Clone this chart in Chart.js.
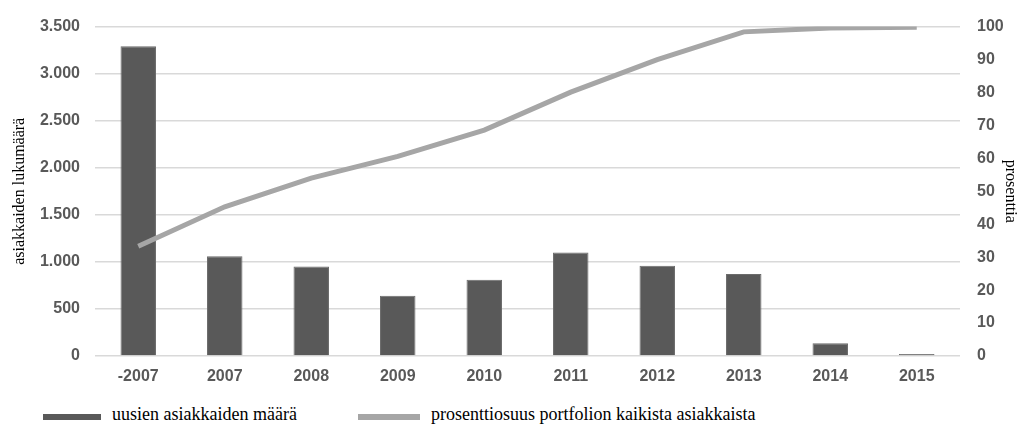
<!DOCTYPE html>
<html>
<head>
<meta charset="utf-8">
<script src="https://cdn.jsdelivr.net/npm/chart.js@4"></script>
<style>
  html, body { margin: 0; padding: 0; background: #fff; overflow: hidden; }
  #wrap { position: relative; width: 1024px; height: 424px; }
  #legend { position: absolute; left: 0; top: 404px; width: 1024px; height: 20px; }
  .item { position: absolute; top: 0; display: flex; align-items: center; white-space: nowrap;
          font-family: 'Liberation Serif', serif; font-size: 18px; color: #000; line-height: 20px; }
  .swatch { height: 6px; margin-right: 11px; margin-top: 5px; }
</style>
</head>
<body>
<div id="wrap">
  <canvas id="myChart" width="1024" height="400"></canvas>
  <div id="legend"></div>
</div>
<script>
  // Data
  const years = ['-2007', '2007', '2008', '2009', '2010', '2011', '2012', '2013', '2014', '2015']
  const newCustomers = [3290, 1060, 950, 640, 810, 1100, 960, 870, 135, 20]
  const portfolioShare = [33.3, 45.3, 54, 60.6, 68.6, 80.1, 90, 98.4, 99.6, 99.8]
  const countTicks = [0, 500, 1000, 1500, 2000, 2500, 3000, 3500]
  const percentTicks = [0, 10, 20, 30, 40, 50, 60, 70, 80, 90, 100]

  const tickFont = { family: 'Liberation Sans', size: 16, weight: 'bold' }
  const titleFont = { family: 'Liberation Serif', size: 16 }
  const barColor = '#595959'
  const lineColor = '#a6a6a6'

  const ctx = document.getElementById('myChart')
  const myChart = new Chart(ctx, {
    type: 'bar',
    data: {
      labels: years,
      datasets: [{
        label: 'uusien asiakkaiden määrä',
        data: newCustomers,
        backgroundColor: barColor,
        borderColor: '#6b6b6b',
        borderWidth: 1,
        categoryPercentage: 1,
        barPercentage: 0.41,
        yAxisID: 'y',
        order: 1
      }, {
        type: 'line',
        label: 'prosenttiosuus portfolion kaikista asiakkaista',
        data: portfolioShare,
        borderColor: lineColor,
        backgroundColor: lineColor,
        borderWidth: 5,
        pointRadius: 0,
        tension: 0,
        yAxisID: 'y1',
        order: 0
      }]
    },
    options: {
      responsive: false,
      animation: false,
      layout: { padding: { top: 24, left: 0, right: 0, bottom: 0 } },
      plugins: {
        tooltip: { enabled: false },
        legend: { display: false }
      },
      scales: {
        x: {
          afterFit: (axis) => { axis.height = 44 },
          grid: { display: false, drawTicks: false },
          border: { display: false },
          ticks: { font: tickFont, color: '#595959', padding: 11, maxRotation: 0 }
        },
        y: {
          position: 'left',
          min: 0,
          max: 3500,
          afterFit: (axis) => { axis.width = 95 },
          afterBuildTicks: (axis) => { axis.ticks = countTicks.map(v => ({ value: v })) },
          grid: { color: '#d9d9d9', lineWidth: 1.5, drawTicks: false },
          border: { display: false },
          ticks: {
            font: tickFont,
            color: '#595959',
            padding: 15,
            callback: (v) => String(v).replace(/\B(?=(\d{3})+(?!\d))/g, '.')
          },
          title: { display: true, text: 'asiakkaiden lukumäärä', font: titleFont, color: '#000', padding: { top: 10, bottom: 0 } }
        },
        y1: {
          position: 'right',
          min: 0,
          max: 100,
          afterFit: (axis) => { axis.width = 64 },
          afterBuildTicks: (axis) => { axis.ticks = percentTicks.map(v => ({ value: v })) },
          grid: { display: false, drawTicks: false },
          border: { display: false },
          ticks: { font: tickFont, color: '#595959', padding: 17 },
          title: { display: true, text: 'prosenttia', font: titleFont, color: '#000', padding: { top: 4, bottom: 0 } }
        }
      }
    }
  })

  // Legend (HTML, built from the datasets)
  const legendLeft = [43, 358]
  const swatchWidth = [58, 62]
  const legend = document.getElementById('legend')
  myChart.data.datasets.forEach((ds, i) => {
    const item = document.createElement('div')
    item.className = 'item'
    item.style.left = legendLeft[i] + 'px'
    const sw = document.createElement('span')
    sw.className = 'swatch'
    sw.style.width = swatchWidth[i] + 'px'
    sw.style.background = ds.type === 'line' ? lineColor : barColor
    item.appendChild(sw)
    item.appendChild(document.createTextNode(ds.label))
    legend.appendChild(item)
  })
</script>
</body>
</html>
